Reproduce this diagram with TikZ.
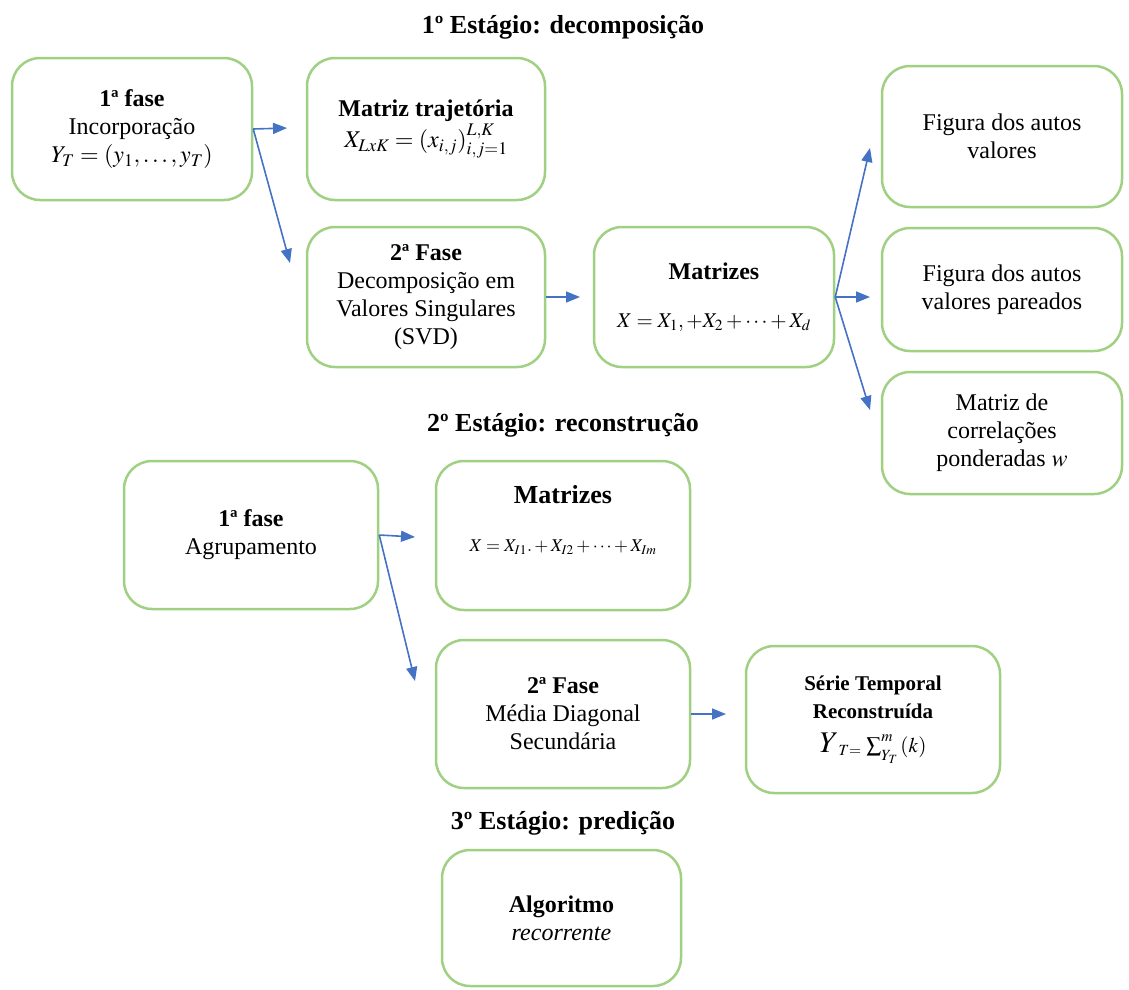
\documentclass[tikz,border=0pt]{standalone}
\usepackage{mathptmx}
\usepackage{fontspec}
\setmainfont{Liberation Serif}
\usetikzlibrary{arrows.meta}
\definecolor{boxgreen}{RGB}{160,208,130}
\definecolor{arrblue}{RGB}{68,114,196}
\begin{document}
\begin{tikzpicture}[x=1pt,y=-1pt,
  box/.style={draw=boxgreen, line width=2.5pt, rounded corners=28pt, fill=white,
    inner sep=0pt, align=center, font=\rmfamily\fontsize{24}{28}\selectfont},
  arr/.style={draw=arrblue, line width=1.6pt, -{Triangle[length=14pt,width=11pt]}},
  stagetitle/.style={font=\rmfamily\fontsize{26}{30}\selectfont\bfseries}]
\useasboundingbox (0,0) rectangle (1129,989);

% titles
\node[stagetitle] (t1) at (563,27) {1º Estágio: decomposição};
\node[stagetitle] (t2) at (563,425) {2º Estágio: reconstrução};
\node[stagetitle] (t3) at (563,823) {3º Estágio: predição};

% stage 1
\node[box, minimum width=240pt, minimum height=142pt] (A) at (132,129)
  {\textbf{1ª fase}\\Incorporação\\$Y_T=(y_1,\ldots,y_T)$};
\node[box, minimum width=238pt, minimum height=142pt] (B) at (426,129)
  {\textbf{Matriz trajetória}\\[2pt]$X_{LxK}=(x_{i,j})_{i,j=1}^{L,K}$};
\node[box, minimum width=238pt, minimum height=140pt] (C) at (426,297)
  {\textbf{2ª Fase}\\Decomposição em\\Valores Singulares\\(SVD)};
\node[box, minimum width=240pt, minimum height=140pt] (D) at (714,297)
  {\textbf{Matrizes}\\[20pt]{\fontsize{21}{25}\selectfont $X=X_1,+X_2+\cdots+X_d$}};
\node[box, minimum width=240pt, minimum height=141pt] (E) at (1002,136.5)
  {Figura dos autos\\valores};
\node[box, minimum width=240pt, minimum height=123pt] (F) at (1002,289.5)
  {Figura dos autos\\valores pareados};
\node[box, minimum width=240pt, minimum height=122pt] (G) at (1002,433)
  {Matriz de\\correlações\\ponderadas $w$};

% stage 2
\node[box, minimum width=254pt, minimum height=148pt] (H) at (251,535)
  {\textbf{1ª fase}\\Agrupamento};
\node[box, minimum width=254pt, minimum height=149pt] (I) at (563,535.5)
  {{\fontsize{26}{30}\selectfont\bfseries Matrizes}\\[20pt]{\fontsize{18}{22}\selectfont $X=X_{I1}.+X_{I2}+\cdots+X_{Im}$}\\[6pt]\mbox{}};
\node[box, minimum width=254pt, minimum height=148pt] (J) at (563,714)
  {\textbf{2ª Fase}\\Média Diagonal\\Secundária};
\node[box, minimum width=254pt, minimum height=147pt] (K) at (873,719.5)
  {{\fontsize{21}{25}\selectfont\bfseries Série Temporal}\\{\fontsize{21}{25}\selectfont\bfseries Reconstruída}\\[6pt]{\fontsize{21}{25}\selectfont $\mbox{\fontsize{30}{30}\selectfont$Y$}_{T=}\,\sum\nolimits^{\raisebox{3pt}{$\scriptstyle m$}}_{\raisebox{-3pt}{$\scriptstyle Y_T$}}\,(k)$}};

% stage 3
\node[box, minimum width=239pt, minimum height=136pt] (L) at (561.5,918)
  {\textbf{Algoritmo}\\\textit{recorrente}};

% arrow end points
\coordinate (eAB) at (287,128);
\coordinate (eAC) at (290,263);
\coordinate (eCD) at (580,297);
\coordinate (eDE) at (870,148);
\coordinate (eDF) at (870,297);
\coordinate (eDG) at (870,410);
\coordinate (eHI) at (415,537);
\coordinate (eHJ) at (415,681);
\coordinate (eJK) at (726,714);

\draw[arr] (A.east) -- (eAB);
\draw[arr] (A.east) -- (eAC);
\draw[arr] (C.east) -- (eCD);
\draw[arr] (D.east) -- (eDE);
\draw[arr] (D.east) -- (eDF);
\draw[arr] (D.east) -- (eDG);
\draw[arr] (H.east) -- (eHI);
\draw[arr] (H.east) -- (eHJ);
\draw[arr] (J.east) -- (eJK);
\end{tikzpicture}
\end{document}
